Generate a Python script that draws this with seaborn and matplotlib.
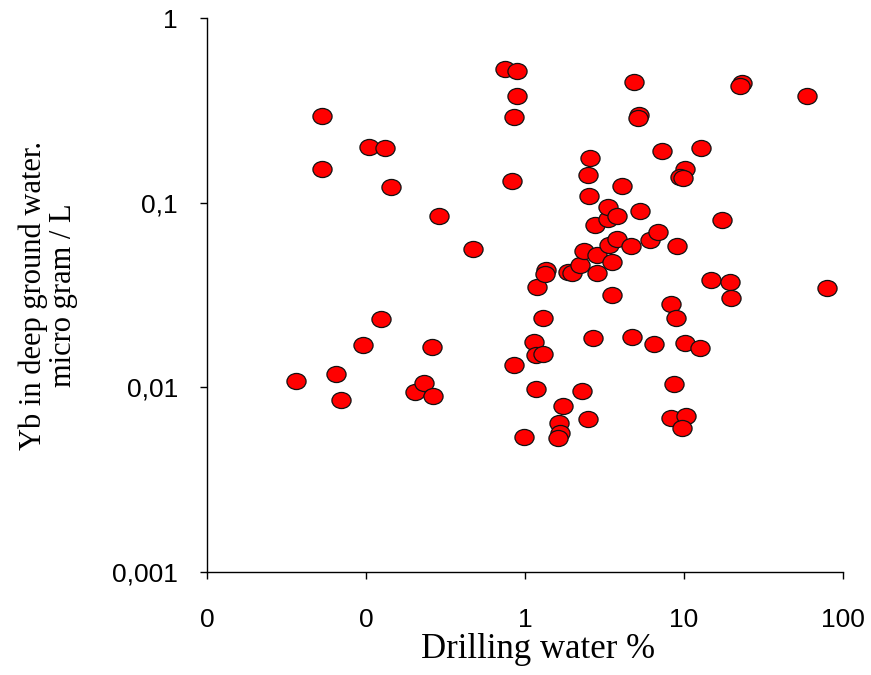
import numpy as np
import pandas as pd
import matplotlib
matplotlib.use("Agg")
import matplotlib.pyplot as plt
from matplotlib.path import Path
from matplotlib.markers import MarkerStyle
from matplotlib.transforms import Affine2D
import seaborn as sns

# Drilling water share (%) for each sampled section
drilling_water = [
    0.0363, 0.0529, 0.0529, 0.0648, 0.0696, 0.0958, 0.104, 0.132, 0.124, 0.144,
    0.203, 0.232, 0.260, 0.264, 0.288, 0.471, 0.748, 0.891, 0.891, 0.853,
    0.828, 0.853, 0.986, 1.14, 1.17, 1.30, 1.30, 1.19, 1.36, 1.34,
    1.17, 1.73, 1.64, 1.66, 1.61, 1.86, 1.98, 2.22, 2.35, 2.84,
    2.84, 3.53, 3.38, 3.79, 4.64, 2.76, 3.33, 3.33, 3.79, 5.29,
    2.53, 2.49, 2.56, 4.07, 3.53, 2.68, 2.28, 2.49, 4.71, 6.48,
    6.11, 6.86, 9.03, 4.85, 5.21, 5.14, 7.27, 12.8, 10.2, 9.44,
    9.86, 17.3, 14.8, 19.5, 19.8, 8.28, 8.91, 10.2, 12.6, 8.65,
    8.28, 10.3, 9.71, 23.2, 22.5, 59.4, 79.3,
]

# Ytterbium concentration in deep ground water (micro gram / L)
yb_conc = [
    0.0108, 0.294, 0.152, 0.0118, 0.00853, 0.0170, 0.200, 0.198, 0.0234, 0.122,
    0.00943, 0.0106, 0.0166, 0.00897, 0.0847, 0.0561, 0.529, 0.516, 0.378, 0.291,
    0.131, 0.0132, 0.00538, 0.0176, 0.0150, 0.0152, 0.0238, 0.0350, 0.0432, 0.0411,
    0.00979, 0.00792, 0.00641, 0.00566, 0.00531, 0.0421, 0.0416, 0.0460, 0.0547, 0.0521,
    0.0416, 0.0477, 0.0590, 0.0636, 0.0583, 0.0757, 0.0816, 0.0948, 0.0847, 0.0902,
    0.109, 0.141, 0.175, 0.123, 0.0316, 0.0185, 0.00955, 0.00674, 0.0187, 0.0172,
    0.0628, 0.0690, 0.0583, 0.450, 0.298, 0.287, 0.191, 0.198, 0.152, 0.138,
    0.136, 0.0806, 0.0382, 0.0372, 0.0305, 0.0283, 0.0238, 0.0174, 0.0163, 0.0104,
    0.00682, 0.00699, 0.00602, 0.445, 0.428, 0.378, 0.0345,
]

x_ticks = [0.01, 0.1, 1, 10, 100]
x_tick_labels = ["0", "0", "1", "10", "100"]
y_ticks = [0.001, 0.01, 0.1, 1]
y_tick_labels = ["0,001", "0,01", "0,1", "1"]

df = pd.DataFrame({"drilling": drilling_water, "yb": yb_conc})

sns.set_style("ticks")
plt.rcParams["font.family"] = ["Liberation Sans", "DejaVu Sans"]

fig = plt.figure(figsize=(8.71, 6.75), dpi=100)
ax = fig.add_axes([207 / 871, 1 - 572 / 675, 636 / 871, 554 / 675])

# slightly wide elliptical marker
ellipse = Path.unit_circle().transformed(Affine2D().scale(1.19, 1.0))
marker = MarkerStyle(ellipse)

sns.scatterplot(data=df, x="drilling", y="yb", ax=ax, marker=marker, s=190,
                color="#ff0000", edgecolor="#111111", linewidth=0.9, legend=False,
                zorder=3)

ax.set_xscale("log")
ax.set_yscale("log")
ax.set_xlim(0.01, 100)
ax.set_ylim(0.001, 1)
ax.set_xticks(x_ticks, x_tick_labels)
ax.set_yticks(y_ticks, y_tick_labels)
ax.minorticks_off()

for side in ["top", "right"]:
    ax.spines[side].set_visible(False)
for side in ["left", "bottom"]:
    ax.spines[side].set_color("black")
    ax.spines[side].set_linewidth(1.0)

ax.tick_params(axis="both", direction="out", length=5, width=1.0, color="black",
               labelsize=19, labelcolor="black")
ax.tick_params(axis="x", pad=21)
ax.tick_params(axis="y", pad=16)

serif = ["Liberation Serif", "DejaVu Serif"]
ax.set_xlabel("Drilling water %", fontsize=25, family=serif, color="black")
ax.set_ylabel("Yb in deep ground water.\nmicro gram / L", fontsize=22, family=serif,
              color="black", linespacing=1.05)
ax.xaxis.set_label_coords(0.52, -0.11)
ax.yaxis.set_label_coords(-0.203, 0.5)

fig.savefig("out.png", dpi=100, facecolor="white")
